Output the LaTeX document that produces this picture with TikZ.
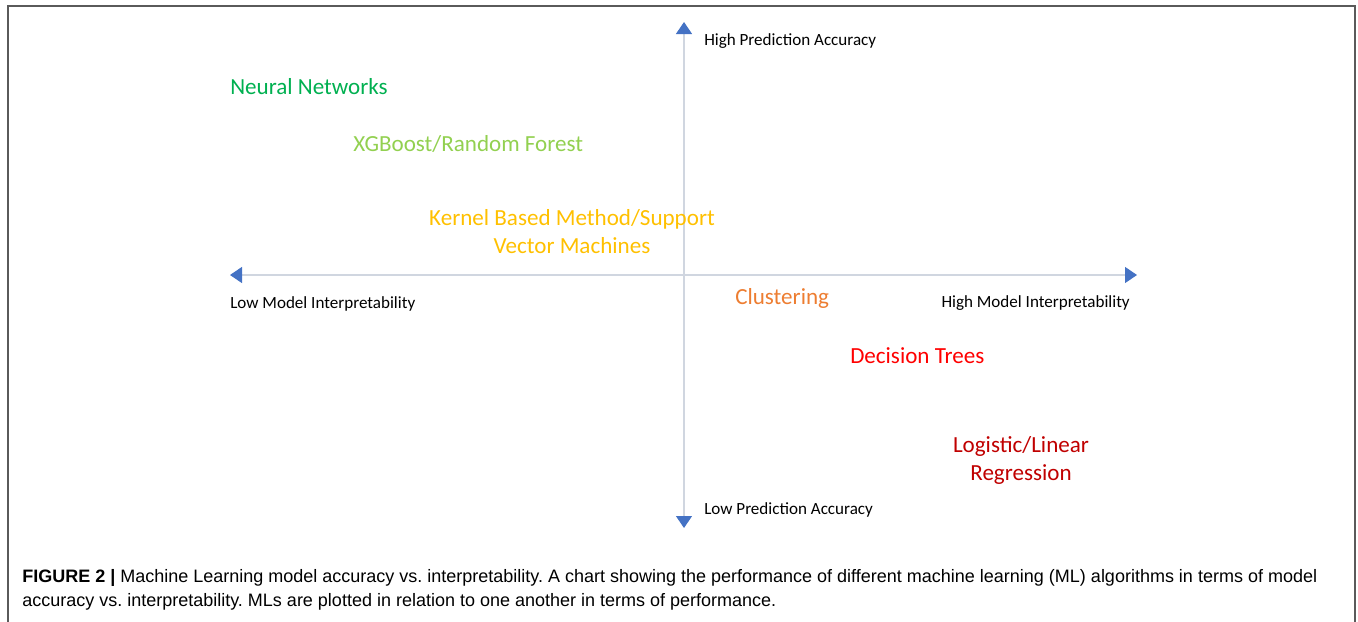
\documentclass[tikz,border=0pt]{standalone}
\usepackage{fontspec}
\setmainfont{Carlito}
\newfontfamily\captionfont{Liberation Sans}
\usetikzlibrary{arrows.meta,positioning}
\definecolor{axisline}{HTML}{D0D6E0}
\definecolor{axistip}{HTML}{4472C4}
\definecolor{nngreen}{HTML}{00B050}
\definecolor{xgbgreen}{HTML}{92D050}
\definecolor{kernelgold}{HTML}{FFC000}
\definecolor{clusterorange}{HTML}{ED7D31}
\definecolor{treered}{HTML}{FF0000}
\definecolor{regred}{HTML}{C00000}
\definecolor{framegray}{HTML}{5A5A5A}
\frenchspacing

\begin{document}
\begin{tikzpicture}
		[x=0.75pt,y=-0.75pt,
		axis/.style={draw=axisline,line width=0.9pt,
			{Triangle[width=12pt,length=9pt,color=axistip]}-{Triangle[width=12pt,length=9pt,color=axistip]}},
		axis label/.style={draw=none,fill=none,inner sep=0pt,font=\fontsize{12.8}{14}\selectfont},
		method/.style={draw=none,fill=none,inner sep=0pt,align=center,font=\fontsize{17.3}{21}\selectfont}]
		\useasboundingbox (0,0) rectangle (1358,621);
		
		% open frame round the figure
		\draw[framegray,line width=1pt] (8,640) -- (8,6) -- (1355,6) -- (1355,640);
		
		\coordinate (top) at (684,22);
		\coordinate (bottom) at (684,528);
		\coordinate (left) at (230,275);
		\coordinate (right) at (1137,275);
		
		\draw[axis] (bottom) to (top);
		\draw[axis] (left) to (right);
		
		\node[axis label,anchor=west] (hpa) at (704,41.5) {High Prediction Accuracy};
		\node[axis label,anchor=west] (lpa) at (704,509.5) {Low Prediction Accuracy};
		\node[axis label,anchor=west] (lmi) at (230,303.5) {Low Model Interpretability};
		\node[axis label,anchor=east] (hmi) at (1130,303.5) {High Model Interpretability};
		
		\node[method,text=nngreen,anchor=west] (nn) at (230,87) {Neural Networks};
		\node[method,text=xgbgreen,anchor=west] (xgb) at (353,144) {XGBoost/Random Forest};
		\node[method,text=kernelgold] (svm) at (572,232) {Kernel Based Method/Support\\Vector Machines};
		\node[method,text=clusterorange,anchor=west] (clu) at (735,298.5) {Clustering};
		\node[method,text=treered,anchor=west] (dt) at (850,356) {Decision Trees};
		\node[method,text=regred] (lr) at (1021,460) {Logistic/Linear\\Regression};
		
		\node[draw=none,fill=none,inner sep=0pt,anchor=west,align=left,
			font=\captionfont\fontsize{13.5}{18}\selectfont] (cap) at (22,590)
			{\textbf{FIGURE 2 |} Machine Learning model accuracy vs. interpretability. A chart showing the performance of different machine learning (ML) algorithms in terms of model\\
			accuracy vs. interpretability. MLs are plotted in relation to one another in terms of performance.};
		\end{tikzpicture}
\end{document}
